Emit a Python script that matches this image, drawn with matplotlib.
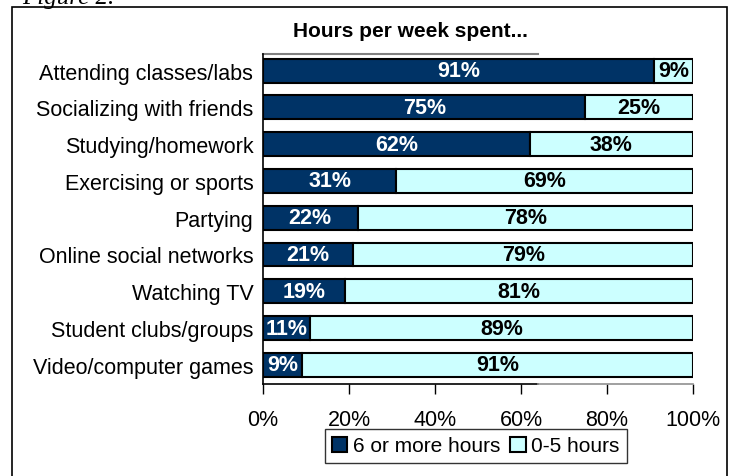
import numpy as np
import matplotlib.pyplot as plt
from matplotlib.patches import Rectangle

activities = ['Attending classes/labs', 'Socializing with friends', 'Studying/homework',
              'Exercising or sports', 'Partying', 'Online social networks',
              'Watching TV', 'Student clubs/groups', 'Video/computer games']
six_plus = [91, 75, 62, 31, 22, 21, 19, 11, 9]
zero_five = [9, 25, 38, 69, 78, 79, 81, 89, 91]
x_ticks = [0, 20, 40, 60, 80, 100]

dark = '#003366'
light = '#CCFFFF'

plt.rcParams['font.family'] = ['Liberation Sans', 'DejaVu Sans']

fig = plt.figure(figsize=(7.33, 4.77), dpi=100)
ax = fig.add_axes([0.3588, 0.1929, 0.5866, 0.6918])

y = np.arange(len(activities))
ax.barh(y, six_plus, height=0.65, color=dark, edgecolor='black', linewidth=1.5,
        label='6 or more hours')
ax.barh(y, zero_five, left=six_plus, height=0.65, color=light, edgecolor='black',
        linewidth=1.5, label='0-5 hours')

for i in range(len(activities)):
    ax.text(six_plus[i] / 2, y[i], f'{six_plus[i]}%', ha='center', va='center',
            color='white', fontweight='bold', fontsize=15.5)
    ax.text(six_plus[i] + zero_five[i] / 2, y[i], f'{zero_five[i]}%', ha='center',
            va='center', color='black', fontweight='bold', fontsize=15.5)

ax.set_xlim(0, 100)
ax.set_ylim(8.52, -0.45)
ax.set_yticks(y)
ax.set_yticklabels(activities, fontsize=15.5)
ax.tick_params(axis='y', length=0, pad=7)
ax.set_xticks(x_ticks)
ax.set_xticklabels([f'{t}%' for t in x_ticks], fontsize=15.5)
ax.tick_params(axis='x', length=7, width=1, direction='out', pad=11)

for s in ['top', 'right']:
    ax.spines[s].set_visible(False)
ax.spines['left'].set_linewidth(1.2)
ax.spines['bottom'].set_visible(False)
# partial lines seen in the original image
ax.plot([0, 64], [-0.45, -0.45], color='#808080', lw=1.5, clip_on=False)
ax.plot([0, 64], [8.52, 8.52], color='black', lw=1.2, clip_on=False)
ax.plot([64, 100], [8.52, 8.52], color='#909090', lw=1.2, clip_on=False)

ax.set_title('Hours per week spent...', fontweight='bold', fontsize=15, x=0.342, pad=13)

leg = ax.legend(loc='center', bbox_to_anchor=(0.649, 0.063), bbox_transform=fig.transFigure,
                ncol=2, fontsize=15, frameon=True, fancybox=False, edgecolor='black',
                handlelength=0.75, handleheight=0.75, handletextpad=0.25, columnspacing=0.5,
                borderpad=0.35)
leg.get_frame().set_linewidth(1)

# outer frame
fig.patches.append(Rectangle((12 / 733, -0.05), 715 / 733, 1 - 8 / 477 + 0.05,
                             transform=fig.transFigure, fill=False, edgecolor='black',
                             linewidth=1.2))
fig.text(0.03, 1.005, 'Figure 2.', style='italic', family='Liberation Serif', fontsize=18,
         va='center')

fig.savefig('out.png', dpi=100)
